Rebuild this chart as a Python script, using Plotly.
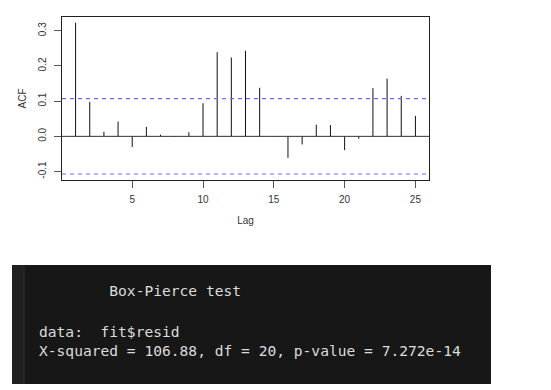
import plotly.graph_objects as go

# ---- data ----
lags = list(range(1, 26))
acf_values = [0.323, 0.098, 0.013, 0.042, -0.030, 0.027, 0.005, -0.002, 0.012,
              0.094, 0.239, 0.224, 0.243, 0.138, 0.001, -0.061, -0.023, 0.033,
              0.032, -0.039, -0.007, 0.137, 0.164, 0.115, 0.058]
ci_limit = 0.107
x_tick_values = [5, 10, 15, 20, 25]
y_tick_values = [-0.1, 0.0, 0.1, 0.2, 0.3]
y_tick_labels = ["-0.1", "0.0", "0.1", "0.2", "0.3"]
console_lines = [
    "        Box-Pierce test",
    "",
    "data:  fit$resid",
    "X-squared = 106.88, df = 20, p-value = 7.272e-14",
]

W, H = 551, 390
L, R, T, B = 62, 429, 17, 180  # plot area in pixels


def px_x(px):
    return (px - L) / (R - L)


def px_y(py):
    return (B - py) / (B - T)


# spikes from zero to each acf value
sx, sy = [], []
for lag, v in zip(lags, acf_values):
    sx += [lag, lag, None]
    sy += [0, v, None]

fig = go.Figure()
fig.add_trace(go.Scatter(x=sx, y=sy, mode="lines",
                         line=dict(color="#111111", width=1),
                         hoverinfo="skip", showlegend=False))

# zero line and confidence bounds
fig.add_shape(type="line", xref="paper", yref="y", x0=0, x1=1, y0=0, y1=0,
              line=dict(color="#333333", width=1))
for c in (ci_limit, -ci_limit):
    fig.add_shape(type="line", xref="paper", yref="y", x0=0, x1=1, y0=c, y1=c,
                  line=dict(color="#6b6bff", width=1.2, dash="4px,4px"))

font_axis = dict(family="Liberation Sans, Arial, sans-serif", size=10, color="#333333")

fig.update_xaxes(range=[0.04, 25.96], tickvals=x_tick_values, ticks="outside",
                 ticklen=7, tickcolor="#555555", showline=True, mirror=True,
                 linecolor="#222222", linewidth=1, showgrid=False, zeroline=False,
                 tickfont=font_axis, ticklabelstandoff=3,
                 title=dict(text="Lag", font=font_axis, standoff=12))
fig.update_yaxes(range=[-0.124, 0.339], tickvals=y_tick_values, ticktext=y_tick_labels,
                 ticks="outside", ticklen=7, tickcolor="#555555", showline=True,
                 mirror=True, linecolor="#222222", linewidth=1, showgrid=False,
                 zeroline=False, tickangle=-90, tickfont=font_axis, ticklabelstandoff=4,
                 title=dict(text="ACF", font=font_axis, standoff=8))

# console output panel
fig.add_shape(type="rect", xref="paper", yref="paper",
              x0=px_x(12), x1=px_x(491), y0=px_y(265), y1=px_y(384),
              fillcolor="#171717", line=dict(width=0), layer="below")
fig.add_shape(type="rect", xref="paper", yref="paper",
              x0=px_x(12), x1=px_x(24), y0=px_y(265), y1=px_y(384),
              fillcolor="#202020", line=dict(width=0), layer="below")
fig.add_shape(type="line", xref="paper", yref="paper",
              x0=px_x(24), x1=px_x(24), y0=px_y(265), y1=px_y(384),
              line=dict(color="#2e2e2e", width=1), layer="below")

line_y = [290, 310, 331, 350]
for text, y in zip(console_lines, line_y):
    if not text:
        continue
    fig.add_annotation(x=px_x(37), y=px_y(y), xref="paper", yref="paper",
                       text=text.replace(" ", "&nbsp;"), showarrow=False,
                       xanchor="left", yanchor="middle",
                       font=dict(family="DejaVu Sans Mono, monospace", size=14.6,
                                 color="#dcdcdc"))

fig.update_layout(width=W, height=H, margin=dict(l=L, r=W - R, t=T, b=H - B),
                  paper_bgcolor="white", plot_bgcolor="white")

fig.write_html("out.html")
